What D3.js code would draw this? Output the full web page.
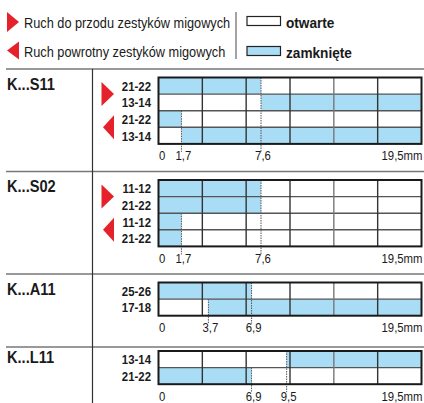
<!DOCTYPE html>
<html>
<head>
<meta charset="utf-8">
<script src="https://cdn.jsdelivr.net/npm/d3@7"></script>
<style>
  body { margin: 0; background: #fff; }
  svg text { font-family: "Liberation Sans", Arial, sans-serif; fill: #1a1a1a; }
</style>
</head>
<body>
<div id="chart"></div>
<script>
// contact types
const blocks = ["K...S11", "K...S02", "K...A11", "K...L11"];

// terminal pairs per row
const rowLabels = [
    ["21-22", "13-14", "21-22", "13-14"],
    ["11-12", "21-22", "11-12", "21-22"],
    ["25-26", "17-18"],
    ["13-14", "21-22"]
];

// closed span of each row (mm)
const closedFrom = [
    [0, 7.6, 0, 1.7],
    [0, 0, 0, 0],
    [0, 3.7],
    [9.5, 0]
];
const closedTo = [
    [7.6, 19.5, 1.7, 19.5],
    [7.6, 7.6, 1.7, 1.7],
    [6.9, 19.5],
    [19.5, 6.9]
];

// travel marks under each grid
const tickValues = [
    [0, 1.7, 7.6, 19.5],
    [0, 1.7, 7.6, 19.5],
    [0, 3.7, 6.9, 19.5],
    [0, 6.9, 9.5, 19.5]
];

// forward / return arrows (only for the two-way contacts)
const hasArrows = [true, true, false, false];

const legendMoves = ["Ruch do przodu zestyków migowych", "Ruch powrotny zestyków migowych"];
const legendStates = ["otwarte", "zamknięte"];

const W = 424, H = 403;
const blue = "#a9ddf6", red = "#e52229";
const blockTop = [77.5, 180, 282.5, 351];
const separators = [69, 171.5, 274, 347];
const rowH = 16.6;

// place a text with a horizontal squeeze around its anchor point
function put(sel, px, py, sq) {
    return sel.attr("transform", (d, i) => {
        let xx = typeof px === "function" ? px(d, i) : px;
        let yy = typeof py === "function" ? py(d, i) : py;
        return "translate(" + xx + "," + yy + ") scale(" + sq + ",1)";
    });
}

const svg = d3.select("#chart").append("svg")
    .attr("width", W)
    .attr("height", H);

const x = d3.scaleLinear()
    .domain([0, 19.5])
    .range([158.5, 421.5]);

// six equal grid columns
const gridCols = d3.range(7).map(i => 19.5 * i / 6);

// Legend
legendMoves.forEach((t, i) => {
    let cy = 22 + i * 28.5;
    let pts = i === 0
        ? [[7, cy - 10], [19, cy], [7, cy + 10]]
        : [[19, cy - 9], [7, cy], [19, cy + 9]];
    svg.append("path")
        .attr("d", d3.line()(pts) + "Z")
        .attr("fill", red);
    put(svg.append("text"), 24, cy + 6, 0.84)
        .attr("font-size", 15.2)
        .text(t);
});

svg.append("line")
    .attr("x1", 236).attr("x2", 236)
    .attr("y1", 12).attr("y2", 59)
    .attr("stroke", "#666").attr("stroke-width", 1.2);

legendStates.forEach((t, i) => {
    let cy = 21 + i * 30;
    svg.append("rect")
        .attr("x", 247).attr("y", cy - 4.5)
        .attr("width", 33.5).attr("height", 9)
        .attr("fill", i === 0 ? "#fff" : blue)
        .attr("stroke", "#222").attr("stroke-width", 1.2);
    put(svg.append("text"), 286, cy + 6.5, 0.88)
        .attr("font-size", 15.5)
        .attr("font-weight", "bold")
        .text(t);
});

// Separators
separators.forEach(y => {
    svg.append("line")
        .attr("x1", 6).attr("x2", W)
        .attr("y1", y).attr("y2", y)
        .attr("stroke", "#777").attr("stroke-width", 1.3);
});
svg.append("line")
    .attr("x1", 92.5).attr("x2", 92.5)
    .attr("y1", separators[0]).attr("y2", H)
    .attr("stroke", "#333").attr("stroke-width", 1.2);

// Blocks
blocks.forEach((name, b) => {
    let n = rowLabels[b].length;
    let top = blockTop[b];
    let y = d3.scaleBand()
        .domain(d3.range(n))
        .range([top, top + n * rowH]);
    let bottom = top + n * rowH;

    let g = svg.append("g").attr("class", "block");

    put(g.append("text"), 7, top + 12, 0.87)
        .attr("font-size", 16.8)
        .attr("font-weight", "bold")
        .text(name);

    // closed fills
    g.selectAll(".fill")
        .data(d3.range(n))
        .enter()
        .append("rect")
        .attr("class", "fill")
        .attr("x", i => x(closedFrom[b][i]))
        .attr("y", i => y(i))
        .attr("width", i => x(closedTo[b][i]) - x(closedFrom[b][i]))
        .attr("height", y.bandwidth())
        .attr("fill", blue);

    // row labels
    put(g.selectAll(".rowlabel")
        .data(rowLabels[b])
        .enter()
        .append("text")
        .attr("class", "rowlabel"), 151, (d, i) => y(i) + y.bandwidth() / 2 + 5, 0.84)
        .attr("text-anchor", "end")
        .attr("font-size", 13.6)
        .attr("font-weight", "bold")
        .text(d => d);

    // inner grid
    g.selectAll(".hline")
        .data(d3.range(1, n))
        .enter()
        .append("line")
        .attr("x1", x(0)).attr("x2", x(19.5))
        .attr("y1", i => y(i)).attr("y2", i => y(i))
        .attr("stroke", "#555").attr("stroke-width", 1.4);

    g.selectAll(".vline")
        .data(gridCols.slice(1, 6))
        .enter()
        .append("line")
        .attr("x1", d => x(d)).attr("x2", d => x(d))
        .attr("y1", top).attr("y2", bottom)
        .attr("stroke", (d, i) => i === 3 ? "#777" : "#333")
        .attr("stroke-width", 1.4);

    // dotted travel marks
    tickValues[b].filter(v => v > 0 && v < 19.5).forEach(v => {
        let r = d3.range(n).find(i => closedFrom[b][i] === v || closedTo[b][i] === v);
        g.append("line")
            .attr("x1", x(v)).attr("x2", x(v))
            .attr("y1", y(r)).attr("y2", bottom + 8)
            .attr("stroke", "#555")
            .attr("stroke-width", 1)
            .attr("stroke-dasharray", "1.5,1");
    });

    g.append("rect")
        .attr("x", x(0)).attr("y", top)
        .attr("width", x(19.5) - x(0))
        .attr("height", bottom - top)
        .attr("fill", "none")
        .attr("stroke", "#1a1a1a").attr("stroke-width", 2);

    // tick labels
    put(g.selectAll(".tick")
        .data(tickValues[b])
        .enter()
        .append("text")
        .attr("class", "tick"),
        d => d === 0 ? x(0) + 0.5 : d === 19.5 ? x(19.5) + 1 : x(d) + 2,
        bottom + 16.5, 0.86)
        .attr("text-anchor", d => d === 0 ? "start" : d === 19.5 ? "end" : "middle")
        .attr("font-size", 13.2)
        .text(d => String(d).replace(".", ",") + (d === 19.5 ? "mm" : ""));

    // arrows
    if (hasArrows[b]) {
        let c1 = y(0) + y.bandwidth();
        let c2 = y(2) + y.bandwidth();
        g.append("path")
            .attr("d", d3.line()([[101.5, c1 - 12], [114, c1], [101.5, c1 + 12]]) + "Z")
            .attr("fill", red);
        g.append("path")
            .attr("d", d3.line()([[114, c2 - 12], [103, c2], [114, c2 + 12]]) + "Z")
            .attr("fill", red);
    }
});
</script>
</body>
</html>
